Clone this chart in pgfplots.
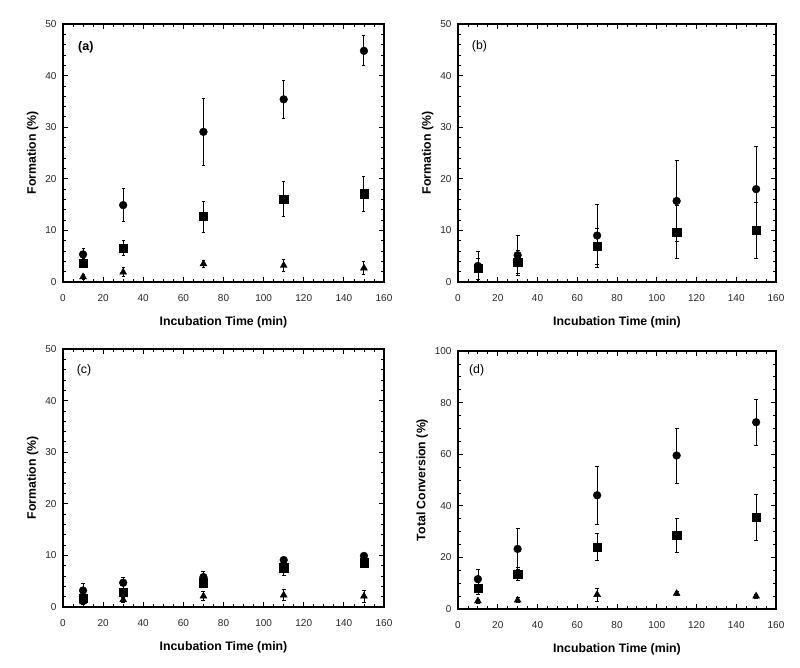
\documentclass[border=0pt]{standalone}
\usepackage{pgfplots}
\pgfplotsset{compat=1.18}
\usepackage{fontspec}
\setmainfont{Liberation Sans}

\tikzset{plabel/.style={anchor=west, inner sep=0pt, font=\fontsize{12.3}{14}\selectfont}}

\pgfplotsset{
  panel/.style={
    scale only axis,
    anchor=south west,
    xmin=0, xmax=160, xtick={0,20,...,160},
    minor x tick num=3,
    ymin=0, ytick distance=10, minor y tick num=4,
    tick align=inside, tick pos=both,
    major tick length=5pt, minor tick length=3pt,
    axis line style={line width=1.1pt},
    every tick/.style={black, line width=0.8pt},
    tick label style={font=\fontsize{10}{11}\selectfont, black!85},
    xticklabel style={yshift=-8.5pt},
    yticklabel style={xshift=-3pt},
    label style={font=\fontsize{12.3}{14}\selectfont\bfseries},
    xlabel={Incubation Time (min)},
    ylabel={Formation (\%)},
    xlabel style={yshift=-9pt},
    /pgf/number format/assume math mode=true,
    clip=false,
  },
  eb/.style={only marks, black, mark options={fill=black, draw=black},
    error bars/y dir=both, error bars/y explicit,
    error bars/error bar style={line width=0.7pt, black},
    error bars/error mark options={rotate=90, mark size=2pt, line width=0.7pt, black}},
  thick eb/.style={error bars/error bar style={line width=1.1pt, black},
    error bars/error mark options={rotate=90, mark size=1.5pt, line width=0.8pt, black}},
  circ/.style={eb, mark=*, mark size=3.9pt},
  sq/.style={eb, mark=square*, mark size=4.1pt},
  tri/.style={eb, mark=triangle*, mark size=4pt},
}

\begin{document}
\begin{tikzpicture}[x=1pt,y=1pt]
\useasboundingbox (0,0) rectangle (800,667);

% (a)
\begin{axis}[panel, at={(63pt,385pt)}, width=321pt, height=258pt, ymax=50]
\node[plabel, font=\fontsize{12.5}{14}\selectfont\bfseries] at (axis cs:7.5,45.4) {(a)};
\addplot[tri, thick eb] coordinates {(10,1.0) +- (0,0.5) (30,1.9) +- (0,0.9) (70,3.5) +- (0,0.6) (110,3.2) +- (0,1.2) (150,2.7) +- (0,1.2)};
\addplot[sq, thick eb] coordinates {(10,3.7) +- (0,0.8) (30,6.6) +- (0,1.5) (70,12.7) +- (0,3.0) (110,16.1) +- (0,3.4) (150,17.1) +- (0,3.4)};
\addplot[circ, thick eb] coordinates {(10,5.35) +- (0,1.2) (30,14.9) +- (0,3.2) (70,29.1) +- (0,6.5) (110,35.4) +- (0,3.7) (150,44.8) +- (0,2.9)};
\end{axis}

% (b)
\begin{axis}[panel, at={(458pt,385pt)}, width=318pt, height=258pt, ymax=50]
\node[plabel] at (axis cs:6.9,45.6) {(b)};
\addplot[circ] coordinates {(10,3.1) +- (0,2.9) (30,5.2) +- (0,3.9) (70,9.0) +- (0,6.1) (110,15.7) +- (0,7.8) (150,18.0) +- (0,8.3)};
\addplot[sq] coordinates {(10,2.6) +- (0,2.0) (30,3.9) +- (0,2.3) (70,6.9) +- (0,3.45) (110,9.7) +- (0,5.2) (150,10.0) +- (0,5.4)};
\end{axis}

% (c)
\begin{axis}[panel, at={(63pt,60pt)}, width=321pt, height=258pt, ymax=50]
\node[plabel] at (axis cs:6.8,45.9) {(c)};
\addplot[tri] coordinates {(10,1.0) +- (0,0.4) (30,1.4) +- (0,0.5) (70,2.1) +- (0,0.9) (110,2.3) +- (0,1.1) (150,2.1) +- (0,1.2)};
\addplot[circ] coordinates {(10,3.2) +- (0,1.3) (30,4.7) +- (0,1.1) (70,5.8) +- (0,1.2) (110,9.1) +- (0,0.5) (150,9.9) +- (0,0.4)};
\addplot[sq] coordinates {(10,1.7) +- (0,0.8) (30,2.9) +- (0,0.8) (70,4.7) +- (0,0.7) (110,7.6) +- (0,1.5) (150,8.6) +- (0,0.5)};
\end{axis}

% (d)
\begin{axis}[panel, at={(458pt,58pt)}, width=318pt, height=258pt, ymax=100,
  ytick distance=20, minor y tick num=3, ylabel={Total Conversion (\%)}]
\node[plabel] at (axis cs:5.5,92.6) {(d)};
\addplot[tri] coordinates {(10,3.1) +- (0,0.8) (30,3.4) +- (0,1.0) (70,5.6) +- (0,2.5) (110,6.0) +- (0,0.8) (150,5.0) +- (0,0.8)};
\addplot[sq] coordinates {(10,8.0) +- (0,2.3) (30,13.5) +- (0,2.5) (70,24.1) +- (0,5.2) (110,28.5) +- (0,6.5) (150,35.6) +- (0,8.9)};
\addplot[circ] coordinates {(10,11.6) +- (0,3.7) (30,23.3) +- (0,7.8) (70,44.1) +- (0,11.1) (110,59.5) +- (0,10.7) (150,72.4) +- (0,8.9)};
\end{axis}
\end{tikzpicture}
\end{document}
